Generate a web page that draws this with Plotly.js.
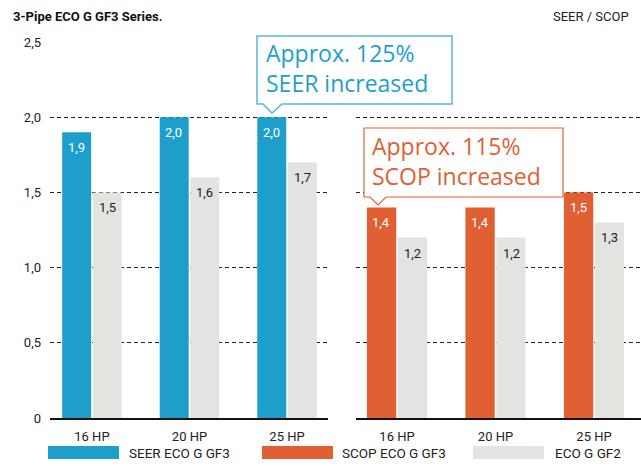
<!DOCTYPE html>
<html><head><meta charset="utf-8">
<script src="https://cdn.plot.ly/plotly-3.0.1.min.js"></script>
<style>html,body{margin:0;padding:0;background:#fff}</style>
</head><body><div id="chart" style="width:641px;height:466px"></div>
<script>
// ---- data ----
const categories = ['16 HP', '20 HP', '25 HP'];
const seerGF3 = [1.9, 2.0, 2.0];
const seerGF2 = [1.5, 1.6, 1.7];
const scopGF3 = [1.4, 1.4, 1.5];
const scopGF2 = [1.2, 1.2, 1.3];
const yTickVals = [0, 0.5, 1, 1.5, 2, 2.5];
const yTickText = ['0', '0,5', '1,0', '1,5', '2,0', '2,5'];
const seriesNames = ['SEER ECO G GF3', 'SCOP ECO G GF3', 'ECO G GF2'];
const seriesColors = ['#1e9fcb', '#e06034', '#e3e4e2'];
const chartTitle = '3-Pipe ECO G GF3 Series.';
const unitLabel = 'SEER / SCOP';
const calloutTexts = ['Approx. 125%<br>SEER increased', 'Approx. 115%<br>SCOP increased'];

// ---- layout helpers ----
const W = 641, H = 466, MT = 42, MB = 48;
const PH = H - MT - MB;
const px = x => x / W;
const py = y => (H - MB - y) / PH;
const FONT = 'Roboto, "DejaVu Sans", sans-serif';
const CFONT = '"Open Sans", Roboto, sans-serif';

function barTrace(x, y, color, xa, ya, name) {
  return {
    type: 'bar', x: x, y: y, xaxis: xa, yaxis: ya, name: name,
    marker: {color: color, line: {width: 0}},
    hoverinfo: 'skip', showlegend: false
  };
}

const data = [
  barTrace(categories, seerGF3, seriesColors[0], 'x', 'y', seriesNames[0]),
  barTrace(categories, seerGF2, seriesColors[2], 'x', 'y', seriesNames[2]),
  barTrace(categories, scopGF3, seriesColors[1], 'x2', 'y2', seriesNames[1]),
  barTrace(categories, scopGF2, seriesColors[2], 'x2', 'y2', seriesNames[2])
];

const annotations = [];
// value labels inside bar tops
const fmt = v => v.toFixed(1).replace('.', ',');
function addLabels(vals, xa, ya, shift, color) {
  vals.forEach((v, i) => annotations.push({
    xref: xa, yref: ya, x: categories[i], y: v, xshift: shift, yshift: -6,
    xanchor: 'center', yanchor: 'top', text: fmt(v), showarrow: false,
    font: {family: FONT, size: 13, color: color}
  }));
}
addLabels(seerGF3, 'x', 'y', -15.5, '#ffffff');
addLabels(seerGF2, 'x', 'y', 15.5, '#222222');
addLabels(scopGF3, 'x2', 'y2', -15.5, '#ffffff');
addLabels(scopGF2, 'x2', 'y2', 15.5, '#222222');

const yaxisCommon = {
  range: [0, 2.5], tickvals: yTickVals, showgrid: true,
  gridcolor: '#222222', gridwidth: 1, griddash: '4px,3px',
  zeroline: false, showline: false, fixedrange: true
};
const xaxisCommon = {
  type: 'category', showline: true, linecolor: '#111111', linewidth: 1.5,
  showgrid: false, zeroline: false, ticks: '', ticklabelstandoff: 6,
  tickfont: {family: FONT, size: 13, color: '#222222'}
};

// Custom legend (wide swatches)
const legendX = [48, 262, 473];
const legendTextX = [127, 340, 553];
const shapes = [];
seriesNames.forEach((n, i) => {
  shapes.push({type: 'rect', xref: 'paper', yref: 'paper',
    x0: px(legendX[i]), x1: px(legendX[i] + 71), y0: py(459), y1: py(446),
    fillcolor: seriesColors[i], line: {width: 0}});
  annotations.push({xref: 'paper', yref: 'paper', x: px(legendTextX[i]), y: py(453),
    xanchor: 'left', yanchor: 'middle', text: n, showarrow: false,
    font: {family: FONT, size: 13.5, color: '#222222'}});
});

// Callouts
function calloutPath(l, t, r, b, p0, tipX, p1, tipY) {
  return `M ${px(l)},${py(t)} L ${px(r)},${py(t)} L ${px(r)},${py(b)} L ${px(p1)},${py(b)} ` +
         `L ${px(tipX)},${py(tipY)} L ${px(p0)},${py(b)} L ${px(l)},${py(b)} Z`;
}
shapes.push({type: 'path', xref: 'paper', yref: 'paper', layer: 'above',
  path: calloutPath(257, 36, 452, 104, 263, 272, 282, 113),
  fillcolor: '#ffffff', line: {color: '#56b8dc', width: 1.5}});
shapes.push({type: 'path', xref: 'paper', yref: 'paper', layer: 'above',
  path: calloutPath(364, 128, 563, 197, 370, 378, 386, 205),
  fillcolor: '#ffffff', line: {color: '#e06034', width: 1.2}});
annotations.push({xref: 'paper', yref: 'paper', x: px(264), y: py(68),
  xanchor: 'left', yanchor: 'middle', align: 'left', text: calloutTexts[0], showarrow: false,
  font: {family: CFONT, size: 23, color: '#1e9fcb'}});
annotations.push({xref: 'paper', yref: 'paper', x: px(370), y: py(161),
  xanchor: 'left', yanchor: 'middle', align: 'left', text: calloutTexts[1], showarrow: false,
  font: {family: CFONT, size: 23, color: '#e06034'}});

// Titles
annotations.push({xref: 'paper', yref: 'paper', x: px(11), y: py(16),
  xanchor: 'left', yanchor: 'middle', text: '<b>' + chartTitle + '</b>', showarrow: false,
  font: {family: FONT, size: 13, color: '#111111'}});
annotations.push({xref: 'paper', yref: 'paper', x: px(631), y: py(16),
  xanchor: 'right', yanchor: 'middle', text: unitLabel, showarrow: false,
  font: {family: FONT, size: 13, color: '#222222'}});

const layout = {
  width: W, height: H,
  margin: {l: 0, r: 0, t: MT, b: MB, pad: 0},
  paper_bgcolor: '#ffffff', plot_bgcolor: 'rgba(0,0,0,0)',
  separators: ',.',
  barmode: 'group', bargap: 0.374, bargroupgap: 0.05,
  showlegend: false,
  font: {family: FONT, color: '#222222'},
  xaxis: Object.assign({}, xaxisCommon, {domain: [px(50), px(328)], range: [-0.43, 2.42], anchor: 'y'}),
  xaxis2: Object.assign({}, xaxisCommon, {domain: [px(356), 1], range: [-0.416, 2.477], anchor: 'y2'}),
  yaxis: Object.assign({}, yaxisCommon, {anchor: 'x', ticktext: yTickText, showticklabels: true,
    ticks: '', ticklabelstandoff: 8, tickfont: {family: FONT, size: 13, color: '#222222'}}),
  yaxis2: Object.assign({}, yaxisCommon, {anchor: 'x2', showticklabels: false, matches: 'y'}),
  shapes: shapes,
  annotations: annotations
};

Plotly.newPlot('chart', data, layout, {displayModeBar: false, staticPlot: true});
</script>
</body></html>
